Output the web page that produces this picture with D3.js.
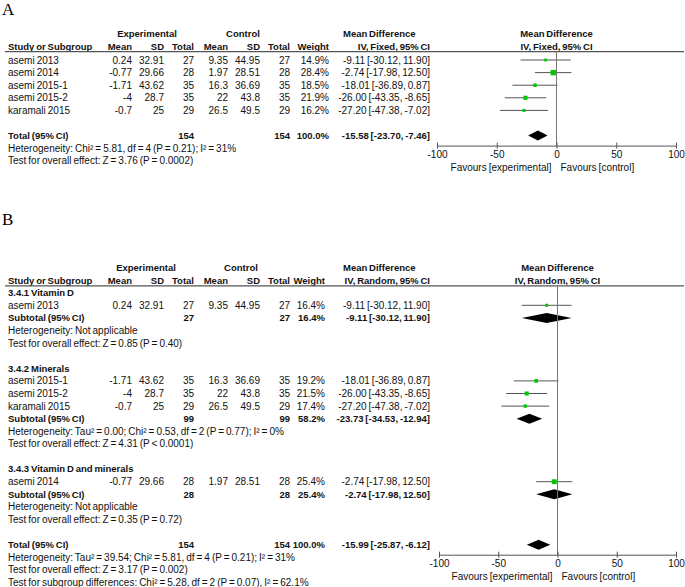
<!DOCTYPE html>
<html>
<head>
<meta charset="utf-8">
<script src="https://cdn.jsdelivr.net/npm/d3@7"></script>
<style>
  body { margin: 0; background: #fff; }
  svg text { font-family: "Liberation Sans", Arial, sans-serif; font-size: 10px; fill: #111; word-spacing: -0.8px; }
  svg text.b { font-weight: bold; font-size: 9.5px; }
  svg text.panel { font-family: "Liberation Serif", "Times New Roman", serif; font-size: 17px; fill: #000; word-spacing: 0; }
</style>
</head>
<body>
<div id="chart"></div>
<script>
// panel A: fixed effect, all studies
const studiesA = ["asemi 2013", "asemi 2014", "asemi 2015-1", "asemi 2015-2", "karamali 2015"];
const expMeanA = [0.24, -0.77, -1.71, -4, -0.7];
const expSdA = [32.91, 29.66, 43.62, 28.7, 25];
const expNA = [27, 28, 35, 35, 29];
const ctlMeanA = [9.35, 1.97, 16.3, 22, 26.5];
const ctlSdA = [44.95, 28.51, 36.69, 43.8, 49.5];
const ctlNA = [27, 28, 35, 35, 29];
const weightA = [14.9, 28.4, 18.5, 21.9, 16.2];
const mdA = [-9.11, -2.74, -18.01, -26.00, -27.20];
const loA = [-30.12, -17.98, -36.89, -43.35, -47.38];
const hiA = [11.90, 12.50, 0.87, -8.65, -7.02];
const totalA = { n1: 154, n2: 154, w: 100, md: -15.58, lo: -23.70, hi: -7.46 };
const notesA = ["Heterogeneity: Chi\u00b2 = 5.81, df = 4 (P = 0.21); I\u00b2 = 31%",
                "Test for overall effect: Z = 3.76 (P = 0.0002)"];

// panel B: random effects, by subgroup
const groupsB = ["3.4.1 Vitamin D", "3.4.2 Minerals", "3.4.3 Vitamin D and minerals"];
const groupOfB = [0, 1, 1, 1, 2];
const studiesB = ["asemi 2013", "asemi 2015-1", "asemi 2015-2", "karamali 2015", "asemi 2014"];
const expMeanB = [0.24, -1.71, -4, -0.7, -0.77];
const expSdB = [32.91, 43.62, 28.7, 25, 29.66];
const expNB = [27, 35, 35, 29, 28];
const ctlMeanB = [9.35, 16.3, 22, 26.5, 1.97];
const ctlSdB = [44.95, 36.69, 43.8, 49.5, 28.51];
const ctlNB = [27, 35, 35, 29, 28];
const weightB = [16.4, 19.2, 21.5, 17.4, 25.4];
const mdB = [-9.11, -18.01, -26.00, -27.20, -2.74];
const loB = [-30.12, -36.89, -43.35, -47.38, -17.98];
const hiB = [11.90, 0.87, -8.65, -7.02, 12.50];
const subN1B = [27, 99, 28];
const subN2B = [27, 99, 28];
const subWB = [16.4, 58.2, 25.4];
const subMdB = [-9.11, -23.73, -2.74];
const subLoB = [-30.12, -34.53, -17.98];
const subHiB = [11.90, -12.94, 12.50];
const subNotesB = [
  ["Heterogeneity: Not applicable", "Test for overall effect: Z = 0.85 (P = 0.40)"],
  ["Heterogeneity: Tau\u00b2 = 0.00; Chi\u00b2 = 0.53, df = 2 (P = 0.77); I\u00b2 = 0%", "Test for overall effect: Z = 4.31 (P < 0.0001)"],
  ["Heterogeneity: Not applicable", "Test for overall effect: Z = 0.35 (P = 0.72)"]
];
const totalB = { n1: 154, n2: 154, w: 100, md: -15.99, lo: -25.87, hi: -6.12 };
const notesB = ["Heterogeneity: Tau\u00b2 = 39.54; Chi\u00b2 = 5.81, df = 4 (P = 0.21); I\u00b2 = 31%",
                "Test for overall effect: Z = 3.17 (P = 0.002)",
                "Test for subgroup differences: Chi\u00b2 = 5.28, df = 2 (P = 0.07), I\u00b2 = 62.1%"];

const axisTicks = [-100, -50, 0, 50, 100];

const width = 685, height = 587;
const svg = d3.select("#chart").append("svg")
  .attr("width", width).attr("height", height);

// plain hyphen for negatives, like the original
const loc = d3.formatLocale({ decimal: ".", thousands: ",", grouping: [3], currency: ["", ""], minus: "-" });
const fmt = loc.format(".2f");
const fmtW = loc.format(".1f");
const ciText = (m, l, h) => `${fmt(m)} [${fmt(l)}, ${fmt(h)}]`;

// build row list for each panel
function studyRow(names, em, es, en, cm, cs, cn, w, md, lo, hi, i) {
  return { type: "study", label: names[i], cells: [em[i], es[i], en[i], cm[i], cs[i], cn[i]],
           w: w[i], md: md[i], lo: lo[i], hi: hi[i] };
}

const rowsA = studiesA.map((s, i) =>
  studyRow(studiesA, expMeanA, expSdA, expNA, ctlMeanA, ctlSdA, ctlNA, weightA, mdA, loA, hiA, i));
rowsA.push({ type: "blank" });
rowsA.push({ type: "total", label: "Total (95% CI)", n1: totalA.n1, n2: totalA.n2, w: totalA.w,
             md: totalA.md, lo: totalA.lo, hi: totalA.hi, axis: true });
notesA.forEach(t => rowsA.push({ type: "note", label: t }));

const rowsB = [];
groupsB.forEach((g, gi) => {
  rowsB.push({ type: "group", label: g });
  studiesB.forEach((s, i) => {
    if (groupOfB[i] === gi)
      rowsB.push(studyRow(studiesB, expMeanB, expSdB, expNB, ctlMeanB, ctlSdB, ctlNB, weightB, mdB, loB, hiB, i));
  });
  rowsB.push({ type: "total", label: "Subtotal (95% CI)", n1: subN1B[gi], n2: subN2B[gi], w: subWB[gi],
               md: subMdB[gi], lo: subLoB[gi], hi: subHiB[gi] });
  subNotesB[gi].forEach(t => rowsB.push({ type: "note", label: t }));
  rowsB.push({ type: "blank" });
});
rowsB.push({ type: "total", label: "Total (95% CI)", n1: totalB.n1, n2: totalB.n2, w: totalB.w,
             md: totalB.md, lo: totalB.lo, hi: totalB.hi, axis: true });
notesB.forEach(t => rowsB.push({ type: "note", label: t }));

function drawPanel(cfg) {
  const g = svg.append("g");
  const colX = [132, 164, 194, 228, 260, 290];
  const y = i => cfg.row0 + i * 12.6;
  const x = d3.scaleLinear().domain([-100, 100]).range(cfg.plotRange);

  g.append("text").attr("class", "panel").attr("x", 2).attr("y", cfg.letterY).text(cfg.letter);

  // headers
  const h1 = cfg.headY, h2 = cfg.headY + 13.4;
  const head = (tx, xx, yy, anchor) => g.append("text").attr("class", "b")
    .attr("x", xx).attr("y", yy).attr("dy", "0.35em").attr("text-anchor", anchor).text(tx);
  head("Experimental", cfg.expX, h1, "middle");
  head("Control", cfg.ctlX, h1, "middle");
  head("Study or Subgroup", 8, h2, "start");
  ["Mean", "SD", "Total", "Mean", "SD", "Total"].forEach((t, i) => head(t, colX[i], h2, "end"));
  head("Weight", cfg.wX, h2, "end");
  head("Mean Difference", 343, h1, "start");
  head(cfg.method, 430, h2, "end");
  head("Mean Difference", x(0), h1, "middle");
  head(cfg.method, x(0), h2, "middle");

  const lineY = h2 + 5;
  g.append("line").attr("x1", 5).attr("x2", 684).attr("y1", lineY).attr("y2", lineY)
    .attr("stroke", "#555").attr("stroke-width", 1.2);

  let axisY = 0;
  cfg.rows.forEach((r, i) => {
    const yy = y(i);
    if (r.type === "blank") return;
    const txt = (tx, xx, anchor, bold) => g.append("text").attr("class", bold ? "b" : null)
      .attr("x", xx).attr("y", yy).attr("dy", "0.35em").attr("text-anchor", anchor).text(tx);
    if (r.type === "note") { txt(r.label, 8, "start", false); return; }
    if (r.type === "group") { txt(r.label, 8, "start", true); return; }
    if (r.type === "study") {
      txt(r.label, 8, "start", false);
      r.cells.forEach((c, k) => txt(String(c), colX[k], "end", false));
      txt(fmtW(r.w) + "%", cfg.wX, "end", false);
      txt(ciText(r.md, r.lo, r.hi), 430, "end", false);
      g.append("line").attr("x1", x(r.lo)).attr("x2", x(r.hi)).attr("y1", yy).attr("y2", yy)
        .attr("stroke", "#555").attr("stroke-width", 1);
      const s = r.w * 0.19;
      g.append("rect").attr("x", x(r.md) - s / 2).attr("y", yy - s / 2)
        .attr("width", s).attr("height", s).attr("fill", "#00c800");
      return;
    }
    // total / subtotal
    txt(r.label, 8, "start", true);
    txt(String(r.n1), colX[2], "end", true);
    txt(String(r.n2), colX[5], "end", true);
    txt(fmtW(r.w) + "%", cfg.wX, "end", true);
    txt(ciText(r.md, r.lo, r.hi), 430, "end", true);
    g.append("path")
      .attr("d", `M${x(r.lo)},${yy}L${x(r.md)},${yy - 5}L${x(r.hi)},${yy}L${x(r.md)},${yy + 5}Z`)
      .attr("fill", "#000");
    if (r.axis) axisY = yy + 10;
  });

  // zero line
  g.append("line").attr("x1", x(0)).attr("x2", x(0)).attr("y1", lineY).attr("y2", axisY)
    .attr("stroke", "#777").attr("stroke-width", 1);

  // axis
  const ax = g.append("g").attr("transform", `translate(0,${axisY})`)
    .call(d3.axisBottom(x).tickValues(axisTicks).tickSize(3).tickSizeOuter(0).tickFormat(loc.format("d")));
  ax.select(".domain").attr("stroke", "#555");
  ax.selectAll(".tick line").attr("y1", -3).attr("stroke", "#555");
  ax.selectAll(".tick text").attr("font-family", null).attr("font-size", null).attr("y", 5);

  g.append("text").attr("x", x(0) - 5).attr("y", axisY + 21.5).attr("dy", "0.35em")
    .attr("text-anchor", "end").text("Favours [experimental]");
  g.append("text").attr("x", x(0) + 4).attr("y", axisY + 21.5).attr("dy", "0.35em")
    .attr("text-anchor", "start").text("Favours [control]");
}

drawPanel({ letter: "A", letterY: 15, headY: 33.3, row0: 60, rows: rowsA, plotRange: [437, 676],
            expX: 147, ctlX: 243, wX: 329, method: "IV, Fixed, 95% CI" });
drawPanel({ letter: "B", letterY: 225, headY: 267.4, row0: 292.7, rows: rowsB, plotRange: [439, 676],
            expX: 146, ctlX: 241, wX: 325, method: "IV, Random, 95% CI" });
</script>
</body>
</html>
